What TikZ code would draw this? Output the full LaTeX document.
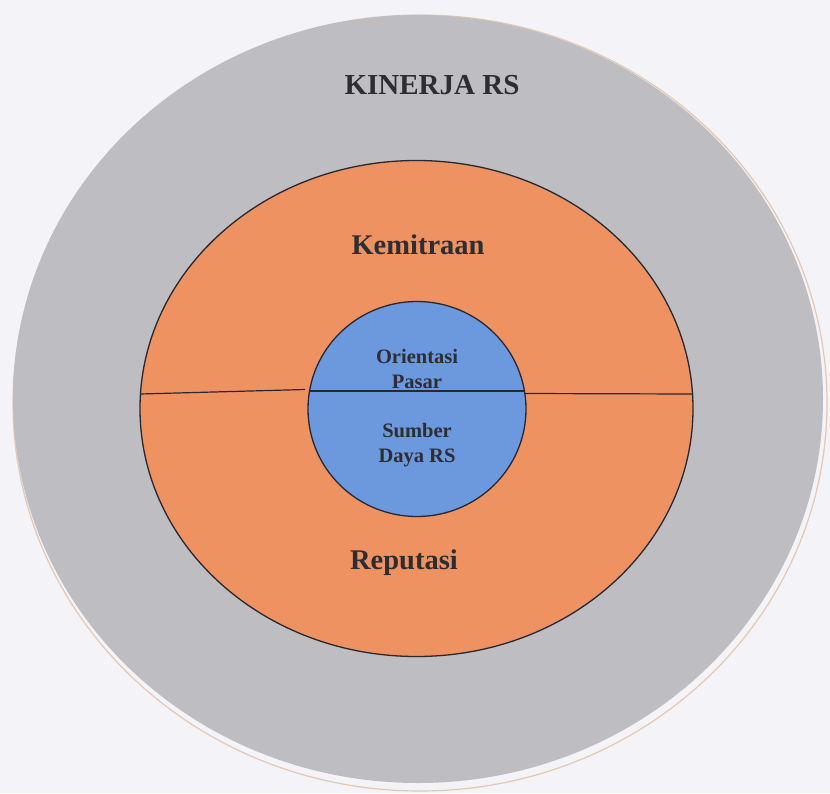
\documentclass[tikz,border=0pt]{standalone}
\usepackage{fontspec}
\setmainfont{Liberation Serif}
\usetikzlibrary{shapes.geometric}
\definecolor{bgc}{RGB}{243,243,248}
\definecolor{grayc}{RGB}{190,190,194}
\definecolor{orangec}{RGB}{238,146,98}
\definecolor{bluec}{RGB}{108,152,222}
\definecolor{edgec}{RGB}{40,40,50}
\definecolor{txtc}{RGB}{45,45,50}
\definecolor{rimc}{RGB}{228,200,178}
\tikzset{
  ring/.style={ellipse, inner sep=0pt, outer sep=0pt},
  lbl/.style={font=\bfseries, text=txtc, inner sep=0pt, align=center},
}
\begin{document}
\begin{tikzpicture}[x=1pt,y=-1pt]
\fill[bgc] (0,0) rectangle (830,793);
\useasboundingbox (0,0) rectangle (830,793);
% faint rim
\draw[rimc, line width=1.2pt] (420,403) ellipse [x radius=407, y radius=388];
% outer gray
\node[ring, fill=grayc, minimum width=810, minimum height=768] (outer) at (418,399) {};
% orange
\node[ring, fill=orangec, draw=edgec, line width=1.3pt, minimum width=553, minimum height=496] (mid) at (416.5,408.5) {};
% blue
\node[ring, fill=bluec, draw=edgec, line width=1.3pt, minimum width=218, minimum height=215] (inner) at (417,409) {};
% dividing line
\coordinate (l1) at (140,394);
\coordinate (l2) at (305,389.5);
\coordinate (m1) at (309,391);
\coordinate (m2) at (525,391);
\coordinate (r1) at (525,393.5);
\coordinate (r2) at (693,394);
\draw[edgec, line width=1.2pt] (l1) -- (l2);
\draw[edgec, line width=1.2pt] (m1) -- (m2);
\draw[edgec, line width=1.2pt] (r1) -- (r2);
% labels
\node[lbl, font=\bfseries\fontsize{29}{32}\selectfont] (t1) at (432,85) {KINERJA RS};
\node[lbl, font=\bfseries\fontsize{28.5}{32}\selectfont] (t2) at (418,245) {Kemitraan};
\node[lbl, font=\bfseries\fontsize{28.5}{32}\selectfont] (t3) at (404,563) {Reputasi};
\node[lbl, font=\bfseries\fontsize{20.5}{25.5}\selectfont] (t4) at (417,369) {Orientasi\\Pasar};
\node[lbl, font=\bfseries\fontsize{20.5}{25.5}\selectfont] (t5) at (417,445) {Sumber\\Daya RS};
\end{tikzpicture}
\end{document}
